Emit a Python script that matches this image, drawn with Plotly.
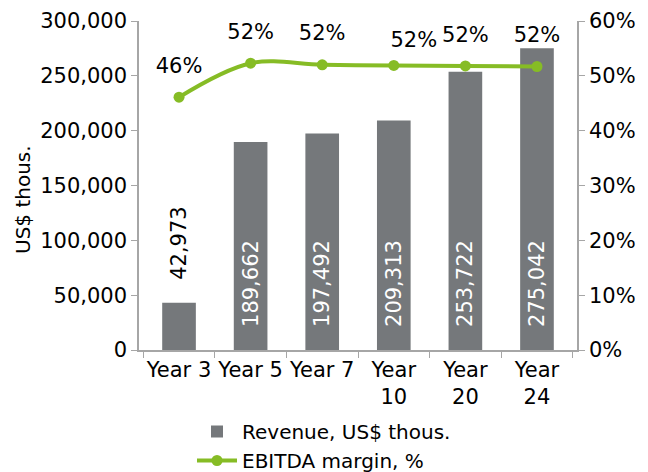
import plotly.graph_objects as go

# data
years = ["Year 3", "Year 5", "Year 7", "Year<br>10", "Year<br>20", "Year<br>24"]
revenue = [42973, 189662, 197492, 209313, 253722, 275042]
ebitda_margin = [0.461, 0.523, 0.520, 0.519, 0.518, 0.517]
margin_labels = ["46%", "52%", "52%", "\u00a0" * 6 + "52%", "52%", "52%"]

GRAY = "#75787B"
GREEN = "#86BC25"
AXIS = "#A6A6A6"
FONT = "DejaVu Sans"

pad = "\u00a0" * 3
bar_text = [pad + f"{v:,}" for v in revenue]
bar_pos = ["outside" if v < 100000 else "inside" for v in revenue]

fig = go.Figure()

fig.add_trace(
    go.Bar(
        x=years,
        y=revenue,
        name="Revenue, US$ thous.",
        marker=dict(color=GRAY, line=dict(width=0)),
        text=bar_text,
        textposition=bar_pos,
        insidetextanchor="start",
        textangle=-90,
        constraintext="none",
        insidetextfont=dict(color="white", size=21, family=FONT),
        outsidetextfont=dict(color="black", size=21, family=FONT),
        cliponaxis=False,
    )
)

fig.add_trace(
    go.Scatter(
        x=years,
        y=ebitda_margin,
        yaxis="y2",
        name="EBITDA margin, %",
        mode="lines+markers",
        line=dict(color=GREEN, width=4, shape="spline"),
        marker=dict(color=GREEN, size=11),
    )
)

# labels for the margin line (invisible markers push text upward)
label_size = [29, 29, 29, 20, 29, 29]
fig.add_trace(
    go.Scatter(
        x=years,
        y=ebitda_margin,
        yaxis="y2",
        mode="markers+text",
        text=margin_labels,
        textposition="top center",
        textfont=dict(color="black", size=21, family=FONT),
        marker=dict(color="rgba(0,0,0,0)", size=label_size, line=dict(width=0)),
        showlegend=False,
        hoverinfo="skip",
        cliponaxis=False,
    )
)

# y axis title, placed like the original (partly over the tick labels)
fig.add_annotation(
    text="US$ thous.",
    xref="paper",
    yref="paper",
    x=0,
    xshift=-116,
    y=0.456,
    xanchor="center",
    yanchor="middle",
    textangle=-90,
    showarrow=False,
    font=dict(size=20, family=FONT, color="black"),
)

fig.update_layout(
    width=648,
    height=472,
    margin=dict(l=131, r=79, t=13, b=130),
    paper_bgcolor="white",
    plot_bgcolor="white",
    font=dict(family=FONT, size=21, color="black"),
    bargap=0.53,
    showlegend=True,
    legend=dict(
        orientation="v",
        yref="container",
        x=0.121,
        xanchor="left",
        y=0.0,
        yanchor="bottom",
        font=dict(size=20),
        tracegroupgap=0,
        itemwidth=40,
        bgcolor="rgba(0,0,0,0)",
    ),
    xaxis=dict(
        showline=True,
        linecolor=AXIS,
        linewidth=1.5,
        ticks="outside",
        tickson="boundaries",
        ticklen=6,
        tickcolor=AXIS,
        tickangle=0,
        showgrid=False,
        automargin=False,
    ),
    yaxis=dict(
        range=[0, 300000],
        dtick=50000,
        tickformat=",",
        showline=True,
        linecolor=AXIS,
        linewidth=1.5,
        ticks="outside",
        ticklen=6,
        tickcolor=AXIS,
        showgrid=False,
        zeroline=False,
        automargin=False,
    ),
    yaxis2=dict(
        overlaying="y",
        side="right",
        range=[0, 0.6],
        dtick=0.1,
        tickformat=".0%",
        showline=True,
        linecolor=AXIS,
        linewidth=1.5,
        ticks="outside",
        ticklen=6,
        tickcolor=AXIS,
        showgrid=False,
        zeroline=False,
        automargin=False,
    ),
)

fig.write_html("out.html")
